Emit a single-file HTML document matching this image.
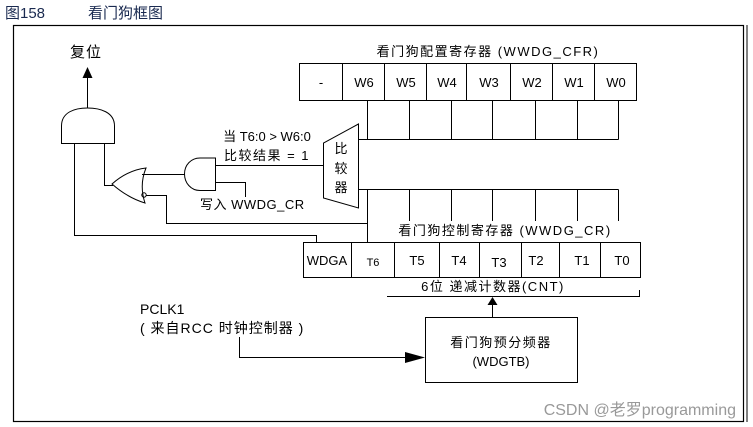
<!DOCTYPE html>
<html><head><meta charset="utf-8"><style>
html,body{margin:0;padding:0;background:#fff;}
svg{display:block;font-family:"Liberation Sans","Noto Sans CJK SC",sans-serif;}
</style></head><body>
<svg width="753" height="427" viewBox="0 0 753 427" xmlns="http://www.w3.org/2000/svg">
<text x="5" y="18" font-size="15" fill="#1a2a50">图158</text>
<text x="88" y="18" font-size="15" fill="#1a2a50">看门狗框图</text>
<rect x="13.5" y="25.5" width="730" height="396" fill="none" stroke="#000" stroke-width="1.2"/>
<line x1="747" y1="25" x2="747" y2="422" stroke="#000" stroke-width="1"/>
<g stroke="#000" stroke-width="1" fill="none">
<rect x="299.5" y="63.5" width="337" height="37"/>
<line x1="342.5" y1="63" x2="342.5" y2="100"/><line x1="384.5" y1="63" x2="384.5" y2="100"/>
<line x1="426.5" y1="63" x2="426.5" y2="100"/><line x1="466.5" y1="63" x2="466.5" y2="100"/>
<line x1="510.5" y1="63" x2="510.5" y2="100"/><line x1="552.5" y1="63" x2="552.5" y2="100"/>
<line x1="594.5" y1="63" x2="594.5" y2="100"/>
<path d="M367.5 100V139.5M409.5 100V139.5M451.5 100V139.5M492.5 100V139.5M535.5 100V139.5M577.5 100V139.5M618.5 100V139.5M358 139.5H618.5"/>
<path d="M358 189.5H618.5M409.5 189.5V221M451.5 189.5V221M492.5 189.5V221M535.5 189.5V221M577.5 189.5V221M618.5 189.5V221M367.5 189.5V242"/>
<path d="M358.5 124L323.5 143V198L358.5 208Z"/>
<rect x="303.5" y="242.5" width="337" height="35"/>
<line x1="351.5" y1="242" x2="351.5" y2="277"/><line x1="394.5" y1="242" x2="394.5" y2="277"/>
<line x1="439.5" y1="242" x2="439.5" y2="277"/><line x1="479.5" y1="242" x2="479.5" y2="277"/>
<line x1="521.5" y1="242" x2="521.5" y2="277"/><line x1="559.5" y1="242" x2="559.5" y2="277"/>
<line x1="600.5" y1="242" x2="600.5" y2="277"/>
<path d="M387 296.5H639.5V290"/>
<line x1="492.5" y1="317" x2="492.5" y2="304"/>
<rect x="425.5" y="317.5" width="152" height="65"/>
<path d="M239.5 337V357.5H412"/>
<path d="M61.5 143.5V126C61.5 112 75 108 87.5 108C100 108 114.5 112 114.5 126V143.5Z"/>
<line x1="87.5" y1="108" x2="87.5" y2="78"/>
<path d="M74.5 143.5V235.5H316.5V242"/>
<path d="M104.5 143.5V185.5H113"/>
<path d="M146 168Q139 185 145 203Q128 198 112 184Q128 170 146 168Z"/>
<path d="M142 174.5H185"/>
<circle cx="144" cy="195" r="2.2"/>
<path d="M146 195.5H166.5V223.5H367.5"/>
<path d="M215.5 158V190.5H200C191 190.5 184.5 183 184.5 174C184.5 165 191 158 200 158Z"/>
<path d="M215.5 165.5H323.5M215.5 182.5H245.5V197"/>
</g>
<polygon points="87.5,67 82.5,78 92.5,78" fill="#000"/>
<polygon points="492.5,297 487.5,305 497.5,305" fill="#000"/>
<polygon points="425,357.5 405,352 405,363" fill="#000"/>
<g font-size="13" fill="#000" text-anchor="middle">
<text x="488" y="56" letter-spacing="1.5">看门狗配置寄存器 (WWDG_CFR)</text>
<text x="321" y="87">-</text><text x="364" y="87">W6</text><text x="406" y="87">W5</text>
<text x="447" y="87">W4</text><text x="489" y="87">W3</text><text x="532" y="87">W2</text>
<text x="574" y="87">W1</text><text x="616" y="87">W0</text>
<text x="505" y="235" letter-spacing="1.5">看门狗控制寄存器 (WWDG_CR)</text>
<text x="327" y="265">WDGA</text><text x="373" y="266" font-size="11">T6</text><text x="417" y="265">T5</text>
<text x="459" y="265">T4</text><text x="499" y="267">T3</text><text x="536" y="265">T2</text>
<text x="582" y="265">T1</text><text x="622" y="265">T0</text>
<text x="493" y="291" letter-spacing="1.5">6位 递减计数器(CNT)</text>
<text x="501" y="347" letter-spacing="1.5">看门狗预分频器</text>
<text x="501" y="366">(WDGTB)</text>
<text x="341" y="153">比</text><text x="341" y="173">较</text><text x="341" y="192">器</text>
<text x="267" y="141">当 T6:0 &gt; W6:0</text>
<text x="267" y="160" letter-spacing="1.5">比较结果 = 1</text>
<text x="86" y="57" font-size="15" letter-spacing="1">复位</text>
</g>
<text x="200" y="209" font-size="13" letter-spacing="0.5">写入 WWDG_CR</text>
<text x="140" y="314" font-size="14">PCLK1</text>
<text x="140" y="333" font-size="14" letter-spacing="1">( 来自RCC 时钟控制器 )</text>
<text x="736" y="415" font-size="16" fill="#999" text-anchor="end">CSDN @老罗programming</text>
</svg>
</body></html>
